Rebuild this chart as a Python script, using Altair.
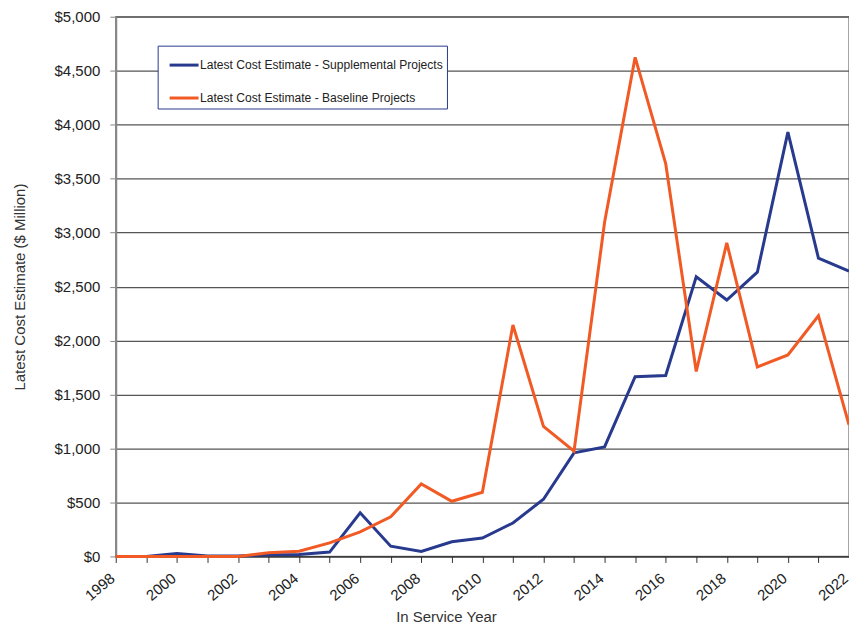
import altair as alt
import pandas as pd

years = list(range(1998, 2023))
supplemental = [0, 0, 28, 5, 5, 15, 18, 40, 404, 95, 46, 136, 170, 310, 530,
                960, 1015, 1665, 1676, 2591, 2375, 2633, 3931, 2763, 2643]
baseline = [0, 0, 0, 0, 0, 34, 49, 126, 228, 367, 672, 511, 594, 2144, 1204,
            975, 3095, 4624, 3640, 1713, 2905, 1756, 1867, 2230, 1220]

s1 = "Latest Cost Estimate - Supplemental Projects"
s2 = "Latest Cost Estimate - Baseline Projects"

rows = []
for y, a, b in zip(years, supplemental, baseline):
    rows.append({"year": y, "value": a, "series": s1})
    rows.append({"year": y, "value": b, "series": s2})
df = pd.DataFrame(rows)

FONT = "Liberation Sans"

chart = alt.Chart(df).mark_line(strokeWidth=3, clip=False).encode(
    x=alt.X("year:Q",
            scale=alt.Scale(domain=[1998, 2022], nice=False, zero=False),
            axis=alt.Axis(values=years,
                          labelExpr="datum.value % 2 == 0 ? datum.value : ''",
                          labelAngle=-40, labelAlign="right", labelBaseline="top",
                          labelOffset=-8, labelPadding=8,
                          grid=False, tickSize=6, tickColor="#333333",
                          domainColor="#222222", labelFontSize=15,
                          labelColor="#222222", labelFont=FONT,
                          title="In Service Year", titleFont=FONT,
                          titleFontSize=15, titleFontWeight="normal",
                          titleColor="#333333", titleX=331, titleY=60,
                          titleBaseline="middle", titleAlign="center")),
    y=alt.Y("value:Q",
            scale=alt.Scale(domain=[0, 5000], nice=False),
            axis=alt.Axis(values=list(range(0, 5001, 500)), format="$,.0f",
                          grid=True, gridColor="#555555", gridWidth=1.2,
                          tickSize=6, tickColor="#888888", domainColor="#888888",
                          domainWidth=2, labelFontSize=15, labelColor="#222222",
                          labelFont=FONT, labelPadding=10,
                          title="Latest Cost Estimate ($ Million)", titleFont=FONT,
                          titleFontSize=15, titleFontWeight="normal",
                          titleColor="#333333", titlePadding=27)),
    color=alt.Color("series:N",
                    scale=alt.Scale(domain=[s1, s2], range=["#283a8e", "#f15a24"]),
                    legend=alt.Legend(title=None, orient="none", legendX=42, legendY=29,
                                      symbolType="stroke", symbolStrokeWidth=3,
                                      symbolSize=841, symbolOffset=7,
                                      labelFont=FONT, labelFontSize=12.1,
                                      labelExpr="datum.label + '   '",
                                      labelColor="#222222", fillColor="white",
                                      strokeColor="#283a8e", padding=3.5,
                                      rowPadding=10, labelOffset=0,
                                      labelLimit=400)),
    order=alt.Order("year:Q"),
).properties(
    width=735, height=541,
    autosize=alt.AutoSizeParams(type="none"),
    padding={"left": 108, "top": 8, "right": 0, "bottom": 68},
).configure_view(stroke="#888888", strokeWidth=1.5)

chart.save("out.html", embed_options={"renderer": "svg", "actions": False})
